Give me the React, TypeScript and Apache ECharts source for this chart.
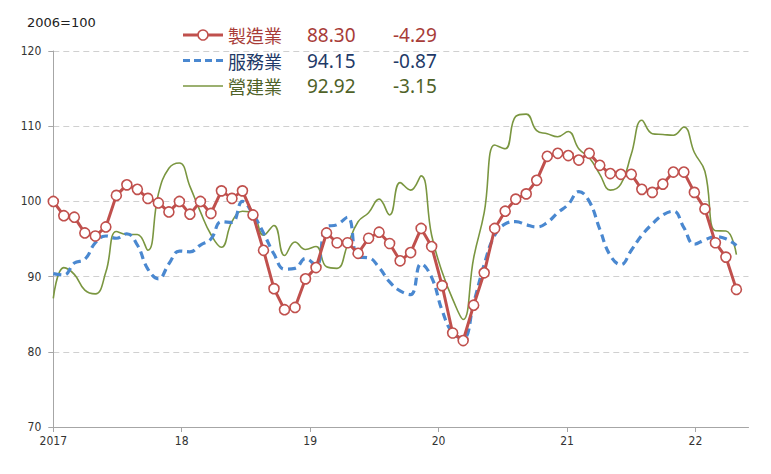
import React, { useEffect, useRef } from "react";
import * as echarts from "echarts";

// Monthly index values (2006=100), Jan 2017 onward
const manufacturing = [
  100.0, 98.1, 97.9, 95.8, 95.4, 96.6, 100.8, 102.2, 101.6, 100.4, 99.8, 98.6,
  100.0, 98.3, 100.0, 98.4, 101.4, 100.4, 101.4, 98.2, 93.5, 88.4, 85.6, 85.9,
  89.7, 91.2, 95.8, 94.5, 94.5, 93.1, 95.1, 95.9, 94.4, 92.1, 93.2, 96.4,
  94.0, 88.8, 82.5, 81.5, 86.2, 90.5, 96.4, 98.7, 100.3, 101.0, 102.8, 106.0,
  106.4, 106.1, 105.5, 106.4, 104.8, 103.7, 103.6, 103.6, 101.6, 101.2, 102.3, 103.9,
  103.9, 101.2, 99.0, 94.5, 92.59, 88.3,
];
const services = [
  90.4, 90.2, 91.8, 92.3, 94.5, 95.4, 95.1, 95.7, 94.2, 91.0, 89.7, 91.7,
  93.4, 93.3, 94.2, 95.0, 97.3, 97.2, 100.0, 98.3, 95.8, 93.0, 91.0, 91.1,
  92.4, 91.5, 96.6, 96.9, 97.9, 92.6, 92.5, 91.2, 89.3, 88.1, 87.6, 91.7,
  89.9, 85.5, 82.5, 81.8, 86.5, 91.6, 95.5, 97.0, 97.3, 96.9, 96.6, 97.2,
  98.5, 99.6, 101.3, 100.0, 96.3, 92.8, 91.6, 93.5, 95.5, 97.0, 98.2, 98.7,
  96.5, 94.3, 94.9, 95.3, 95.02, 94.15,
];
const construction = [
  87.1, 91.2, 90.3, 88.2, 87.7, 90.6, 96.0, 95.6, 95.6, 93.5, 101.0, 104.4,
  105.1, 102.0, 98.6, 95.6, 93.9, 97.3, 98.7, 98.4, 95.5, 96.8, 92.8, 94.6,
  93.6, 94.0, 91.3, 91.1, 94.2, 97.3, 98.5, 100.3, 98.2, 102.5, 101.5, 103.4,
  95.5, 90.6, 87.0, 84.3, 92.5, 98.5, 107.5, 107.0, 111.3, 111.6, 109.4, 109.0,
  108.6, 109.3, 107.0, 105.8, 103.6, 101.5, 102.3, 106.3, 110.8, 109.0, 108.9, 108.8,
  109.9, 106.5, 104.0, 96.1, 96.07, 92.92,
];

const seriesNames = ["製造業", "服務業", "營建業"];
const latestValues = ["88.30", "94.15", "92.92"];
const latestChanges = ["-4.29", "-0.87", "-3.15"];
const yearLabels = ["2017", "18", "19", "20", "21", "22"];
const baseNote = "2006=100";

const MONTHS_PER_TICK = 12.22;
const X_MAX = 66.15;

const RED = "#C0504D";
const BLUE = "#4A88D0";
const GREEN = "#7A9640";
const LINE_COLORS = [RED, BLUE, GREEN];
const TEXT_COLORS = ["#A83C38", "#1F3A68", "#4F6228"];

export default function App() {
  const ref = useRef<HTMLDivElement>(null);

  useEffect(() => {
    if (!ref.current) return;
    const chart = echarts.init(ref.current, undefined, { renderer: "svg" });
    const toPairs = (arr: number[]) => arr.map((v, i) => [i, v]);
    const tickValues = yearLabels.map((_, i) => i * MONTHS_PER_TICK);

    // Legend drawn as graphic elements (line icon + three text columns)
    const rowY = [35, 60.5, 86];
    const legendEls: any[] = [];
    seriesNames.forEach((name, k) => {
      const y = rowY[k];
      legendEls.push({
        type: "line",
        shape: { x1: 183, y1: y, x2: 223, y2: y },
        style: {
          stroke: LINE_COLORS[k],
          lineWidth: k === 0 ? 3 : k === 1 ? 3.2 : 1.6,
          lineDash: k === 1 ? [7, 4] : null,
        },
        silent: true,
      });
      if (k === 0) {
        legendEls.push({
          type: "circle",
          shape: { cx: 203, cy: y, r: 5 },
          style: { fill: "#fff", stroke: RED, lineWidth: 1.6 },
          silent: true,
        });
      }
      const cols = [
        { x: 228, text: name, family: "'Noto Sans CJK TC', sans-serif", size: 18 },
        { x: 307, text: latestValues[k], family: "'Noto Sans', sans-serif", size: 19 },
        { x: 393, text: latestChanges[k], family: "'Noto Sans', sans-serif", size: 19 },
      ];
      cols.forEach((c) => {
        legendEls.push({
          type: "text",
          x: c.x,
          y: y,
          style: {
            text: c.text,
            fill: TEXT_COLORS[k],
            fontSize: c.size,
            fontFamily: c.family,
            verticalAlign: "middle",
            align: "left",
          },
          silent: true,
        });
      });
    });

    chart.setOption({
      animation: false,
      backgroundColor: "#ffffff",
      title: {
        text: baseNote,
        left: 22,
        top: 11,
        textStyle: {
          fontSize: 13,
          fontWeight: "normal",
          color: "#222",
          fontFamily: "'DejaVu Sans', sans-serif",
        },
      },
      graphic: legendEls,
      grid: { left: 53.3, right: 22.5, top: 51, bottom: 47 },
      xAxis: {
        type: "value",
        min: 0,
        max: X_MAX,
        axisLine: { show: true, lineStyle: { color: "#A6A6A6", width: 1 } },
        axisTick: {
          show: true,
          length: 5,
          customValues: tickValues,
          lineStyle: { color: "#A6A6A6" },
        },
        axisLabel: {
          customValues: tickValues,
          formatter: (v: number) => yearLabels[Math.round(v / MONTHS_PER_TICK)] ?? "",
          fontSize: 12,
          color: "#333",
          margin: 8,
          fontFamily: "'DejaVu Sans Condensed', 'Noto Sans', sans-serif",
        },
        splitLine: { show: false },
      },
      yAxis: {
        type: "value",
        min: 70,
        max: 120,
        interval: 10,
        axisLine: { show: true, lineStyle: { color: "#A6A6A6", width: 1 } },
        axisTick: { show: true, length: 5, lineStyle: { color: "#A6A6A6" } },
        axisLabel: {
          fontSize: 12,
          color: "#333",
          margin: 12,
          fontFamily: "'DejaVu Sans Condensed', 'Noto Sans', sans-serif",
        },
        splitLine: {
          show: true,
          lineStyle: { color: "#D0D0D0", type: [6, 4], width: 1 },
        },
      },
      series: [
        {
          name: seriesNames[2],
          type: "line",
          data: toPairs(construction),
          smooth: 0.45,
          showSymbol: false,
          symbol: "none",
          lineStyle: { color: GREEN, width: 1.6 },
          itemStyle: { color: GREEN },
          z: 2,
        },
        {
          name: seriesNames[1],
          type: "line",
          data: toPairs(services),
          smooth: 0.45,
          showSymbol: false,
          symbol: "none",
          lineStyle: { color: BLUE, width: 3.2, type: [8, 5] },
          itemStyle: { color: BLUE },
          z: 3,
        },
        {
          name: seriesNames[0],
          type: "line",
          data: toPairs(manufacturing),
          symbol: "circle",
          symbolSize: 10,
          lineStyle: { color: RED, width: 3 },
          itemStyle: { color: "#ffffff", borderColor: RED, borderWidth: 1.6 },
          z: 4,
        },
      ],
    });
    return () => chart.dispose();
  }, []);

  return (
    <div
      ref={ref}
      style={{ position: "fixed", left: 0, top: 0, width: 771, height: 474, background: "#fff" }}
    />
  );
}
